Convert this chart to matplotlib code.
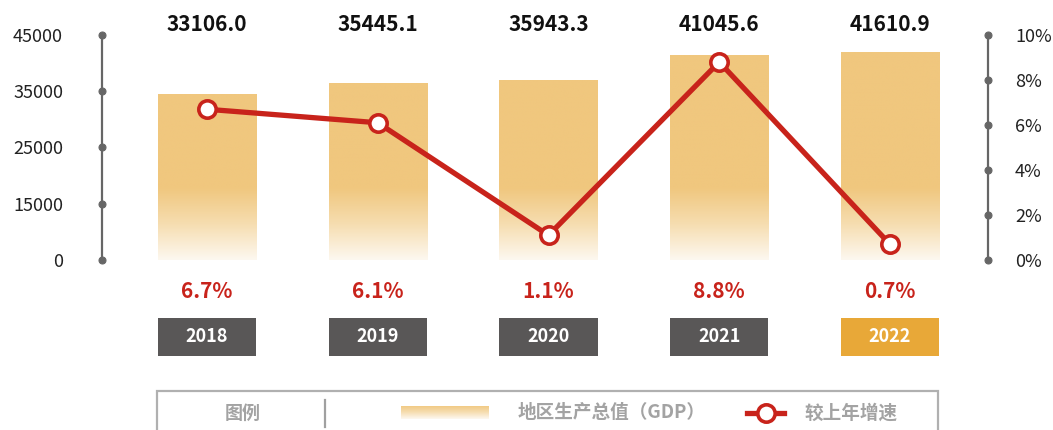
import numpy as np
import matplotlib
matplotlib.use("Agg")
import matplotlib.pyplot as plt
from matplotlib.colors import LinearSegmentedColormap
from matplotlib.patches import Rectangle
from matplotlib.lines import Line2D
import matplotlib.transforms as mtransforms

plt.rcParams['font.family'] = ['Noto Sans CJK SC', 'DejaVu Sans']

# ---- data ----
years = ['2018', '2019', '2020', '2021', '2022']
gdp = [33106.0, 35445.1, 35943.3, 41045.6, 41610.9]
growth = [6.7, 6.1, 1.1, 8.8, 0.7]
left_tick_labels = ['0', '15000', '25000', '35000', '45000']
right_ticks = [0, 2, 4, 6, 8, 10]
legend_title = '图例'
legend_bar = '地区生产总值（GDP）'
legend_line = '较上年增速'

# ---- style ----
W, H = 1053, 430
RED = '#C8231B'
GRAY = '#666666'
BAR_TOP = '#F0C77E'
BAR_BOT = '#FDF8F0'
BOX_DARK = '#595757'
BOX_HL = '#E8A838'
LEG_TXT = '#A3A3A3'

fig = plt.figure(figsize=(W / 100, H / 100), dpi=100)
ax = fig.add_axes([102 / W, 1 - 260 / H, 886 / W, 225 / H])
ax2 = ax.twinx()

x = np.arange(len(years))
bw = 0.574
xlim = (-0.615, len(years) - 1 + 0.574)

cmap = LinearSegmentedColormap.from_list('g', [BAR_BOT, '#F6DDB0', BAR_TOP])
bars = ax.bar(x, gdp, width=bw, color='none', edgecolor='none')
grad = np.linspace(0, 45000, 400)[:, None]
gvals = np.clip(grad / 14400.0, 0, 1)
for b in bars:
    x0 = b.get_x()
    im = ax.imshow(gvals, cmap=cmap, vmin=0, vmax=1, origin='lower',
                   extent=[x0, x0 + b.get_width(), 0, 45000],
                   aspect='auto', zorder=1, interpolation='bilinear')
    im.set_clip_path(b)
ax.set_xlim(*xlim)
ax.set_ylim(0, 45000)

# left axis ticks evenly spaced with labels as in source
ax.set_yticks(np.linspace(0, 45000, len(left_tick_labels)))
ax.set_yticklabels(left_tick_labels)
ax.set_xticks([])

ax2.set_ylim(0, 10)
ax2.set_yticks(right_ticks)
ax2.set_yticklabels([f'{t}%' for t in right_ticks])
ax2.set_xlim(*xlim)

for a in (ax, ax2):
    for s in ('top', 'bottom'):
        a.spines[s].set_visible(False)
ax.spines['right'].set_visible(False)
ax2.spines['left'].set_visible(False)
ax.spines['left'].set_color(GRAY)
ax.spines['left'].set_linewidth(1.6)
ax2.spines['right'].set_color(GRAY)
ax2.spines['right'].set_linewidth(1.6)

ax.tick_params(axis='y', length=0, pad=28, labelsize=13, labelcolor='#222222')
ax2.tick_params(axis='y', length=0, pad=19.5, labelsize=13, labelcolor='#222222')
for t in ax.yaxis.get_major_ticks():
    t.tick1line.set_marker('o')
    t.tick1line.set_markersize(5)
    t.tick1line.set_markerfacecolor(GRAY)
    t.tick1line.set_markeredgecolor(GRAY)
for t in ax2.yaxis.get_major_ticks():
    t.tick2line.set_marker('o')
    t.tick2line.set_markersize(5)
    t.tick2line.set_markerfacecolor(GRAY)
    t.tick2line.set_markeredgecolor(GRAY)

ax2.plot(x, growth, color=RED, lw=3.8, marker='o', markersize=12.5,
         markerfacecolor='white', markeredgecolor=RED, markeredgewidth=2.6,
         zorder=5, solid_capstyle='round')

trans = mtransforms.blended_transform_factory(ax.transData, ax.transAxes)
for i in range(len(years)):
    ax.text(x[i], (260 - 25) / 225, f'{gdp[i]:.1f}', transform=trans,
            ha='center', va='center', fontsize=15, fontweight='bold', color='#111111')
    ax.text(x[i], (260 - 292) / 225, f'{growth[i]:.1f}%', transform=trans,
            ha='center', va='center', fontsize=15, fontweight='bold', color=RED)
    y0 = (260 - 356) / 225
    y1 = (260 - 318) / 225
    fc = BOX_HL if i == len(years) - 1 else BOX_DARK
    ax.add_patch(Rectangle((x[i] - bw / 2, y0), bw, y1 - y0, transform=trans,
                           facecolor=fc, edgecolor='none', clip_on=False))
    ax.text(x[i], (y0 + y1) / 2, years[i], transform=trans, ha='center', va='center',
            fontsize=13, fontweight='bold', color='white')

# ---- legend box ----
def fx(px):
    return px / W

def fy(py):
    return 1 - py / H

fig.add_artist(Rectangle((fx(157), fy(436)), fx(938) - fx(157), fy(391) - fy(436),
                         transform=fig.transFigure, facecolor='none',
                         edgecolor='#B0B0B0', linewidth=1.6, clip_on=False))
fig.text(fx(243), fy(413), legend_title, ha='center', va='center',
         fontsize=13, fontweight='bold', color=LEG_TXT)
fig.add_artist(Line2D([fx(325), fx(325)], [fy(400), fy(427)], transform=fig.transFigure,
                      color='#A0A0A0', lw=1.6))
lax = fig.add_axes([fx(401), fy(419), fx(489) - fx(401), fy(406) - fy(419)])
lax.imshow(np.linspace(0, 1, 50)[:, None], cmap=cmap, vmin=0, vmax=1,
           origin='lower', aspect='auto', extent=[0, 1, 0, 1])
lax.axis('off')
lax.set_zorder(3)
fig.text(fx(518), fy(413), legend_bar, ha='left', va='center',
         fontsize=13.4, fontweight='bold', color=LEG_TXT)
fig.add_artist(Line2D([fx(747), fx(784)], [fy(413), fy(413)], transform=fig.transFigure,
                      color=RED, lw=3.8))
fig.add_artist(Line2D([fx(766)], [fy(413)], transform=fig.transFigure, color=RED,
                      marker='o', markersize=12.5, markerfacecolor='white',
                      markeredgecolor=RED, markeredgewidth=2.6))
fig.text(fx(804), fy(413), legend_line, ha='left', va='center',
         fontsize=13.4, fontweight='bold', color=LEG_TXT)

fig.savefig('out.png', dpi=100)
